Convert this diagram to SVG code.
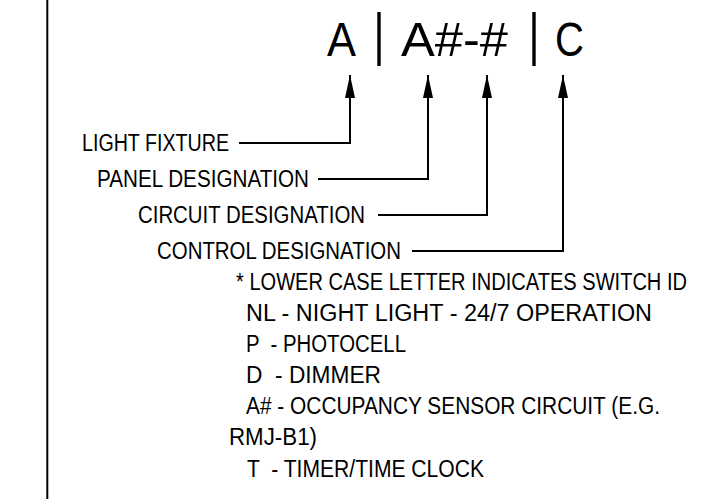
<svg xmlns="http://www.w3.org/2000/svg" width="719" height="499" viewBox="0 0 719 499">
<style>
text{font-family:"Liberation Sans",Arial,sans-serif;fill:#000;white-space:pre}
.lbl{font-size:23px}
.ttl{font-size:47.5px}
.bar{font-size:56.5px}
.conn{fill:none;stroke:#000;stroke-width:2}
</style>
<defs>
<marker id="ah" viewBox="0 0 23 10" markerWidth="23" markerHeight="10" refX="23" refY="5" orient="auto" markerUnits="userSpaceOnUse">
<path d="M0,0 L23,5 L0,10 z" fill="#000"/>
</marker>
</defs>
<rect width="719" height="499" fill="#fff"/>
<line x1="47.3" y1="0" x2="47.3" y2="499" stroke="#000" stroke-width="2"/>
<g id="title">
<text class="ttl" x="327" y="56" textLength="29" lengthAdjust="spacingAndGlyphs">A</text>
<text class="bar" x="373.5" y="54" textLength="11" lengthAdjust="spacingAndGlyphs">|</text>
<text class="ttl" x="401" y="56" textLength="107" lengthAdjust="spacingAndGlyphs">A#-#</text>
<text class="bar" x="528.5" y="54" textLength="11" lengthAdjust="spacingAndGlyphs">|</text>
<text class="ttl" x="555" y="56" textLength="29" lengthAdjust="spacingAndGlyphs">C</text>
</g>
<g id="light-fixture"><text class="lbl" x="82" y="151" textLength="147" lengthAdjust="spacingAndGlyphs">LIGHT FIXTURE</text></g>
<g id="panel-designation"><text class="lbl" x="97" y="187" textLength="212" lengthAdjust="spacingAndGlyphs">PANEL DESIGNATION</text></g>
<g id="circuit-designation"><text class="lbl" x="138" y="223" textLength="227" lengthAdjust="spacingAndGlyphs">CIRCUIT DESIGNATION</text></g>
<g id="control-designation"><text class="lbl" x="157" y="259" textLength="244" lengthAdjust="spacingAndGlyphs">CONTROL DESIGNATION</text></g>
<g id="notes">
<text class="lbl" x="236" y="290" textLength="451" lengthAdjust="spacingAndGlyphs">* LOWER CASE LETTER INDICATES SWITCH ID</text>
<text class="lbl" x="246" y="321" textLength="406" lengthAdjust="spacingAndGlyphs">NL - NIGHT LIGHT - 24/7 OPERATION</text>
<text class="lbl" x="246" y="352" textLength="160" lengthAdjust="spacingAndGlyphs" xml:space="preserve">P  - PHOTOCELL</text>
<text class="lbl" x="246" y="383" textLength="135" lengthAdjust="spacingAndGlyphs" xml:space="preserve">D  - DIMMER</text>
<text class="lbl" x="246" y="414" textLength="414" lengthAdjust="spacingAndGlyphs">A# - OCCUPANCY SENSOR CIRCUIT (E.G.</text>
<text class="lbl" x="229" y="445" textLength="88" lengthAdjust="spacingAndGlyphs">RMJ-B1)</text>
<text class="lbl" x="247" y="477" textLength="237" lengthAdjust="spacingAndGlyphs" xml:space="preserve">T  - TIMER/TIME CLOCK</text>
</g>
<g id="connectors">
<path class="conn" d="M239,143 H350 V75" marker-end="url(#ah)"/>
<path class="conn" d="M318,179 H428 V75" marker-end="url(#ah)"/>
<path class="conn" d="M378,215 H487 V75" marker-end="url(#ah)"/>
<path class="conn" d="M412,251 H563 V75" marker-end="url(#ah)"/>
</g>
</svg>
